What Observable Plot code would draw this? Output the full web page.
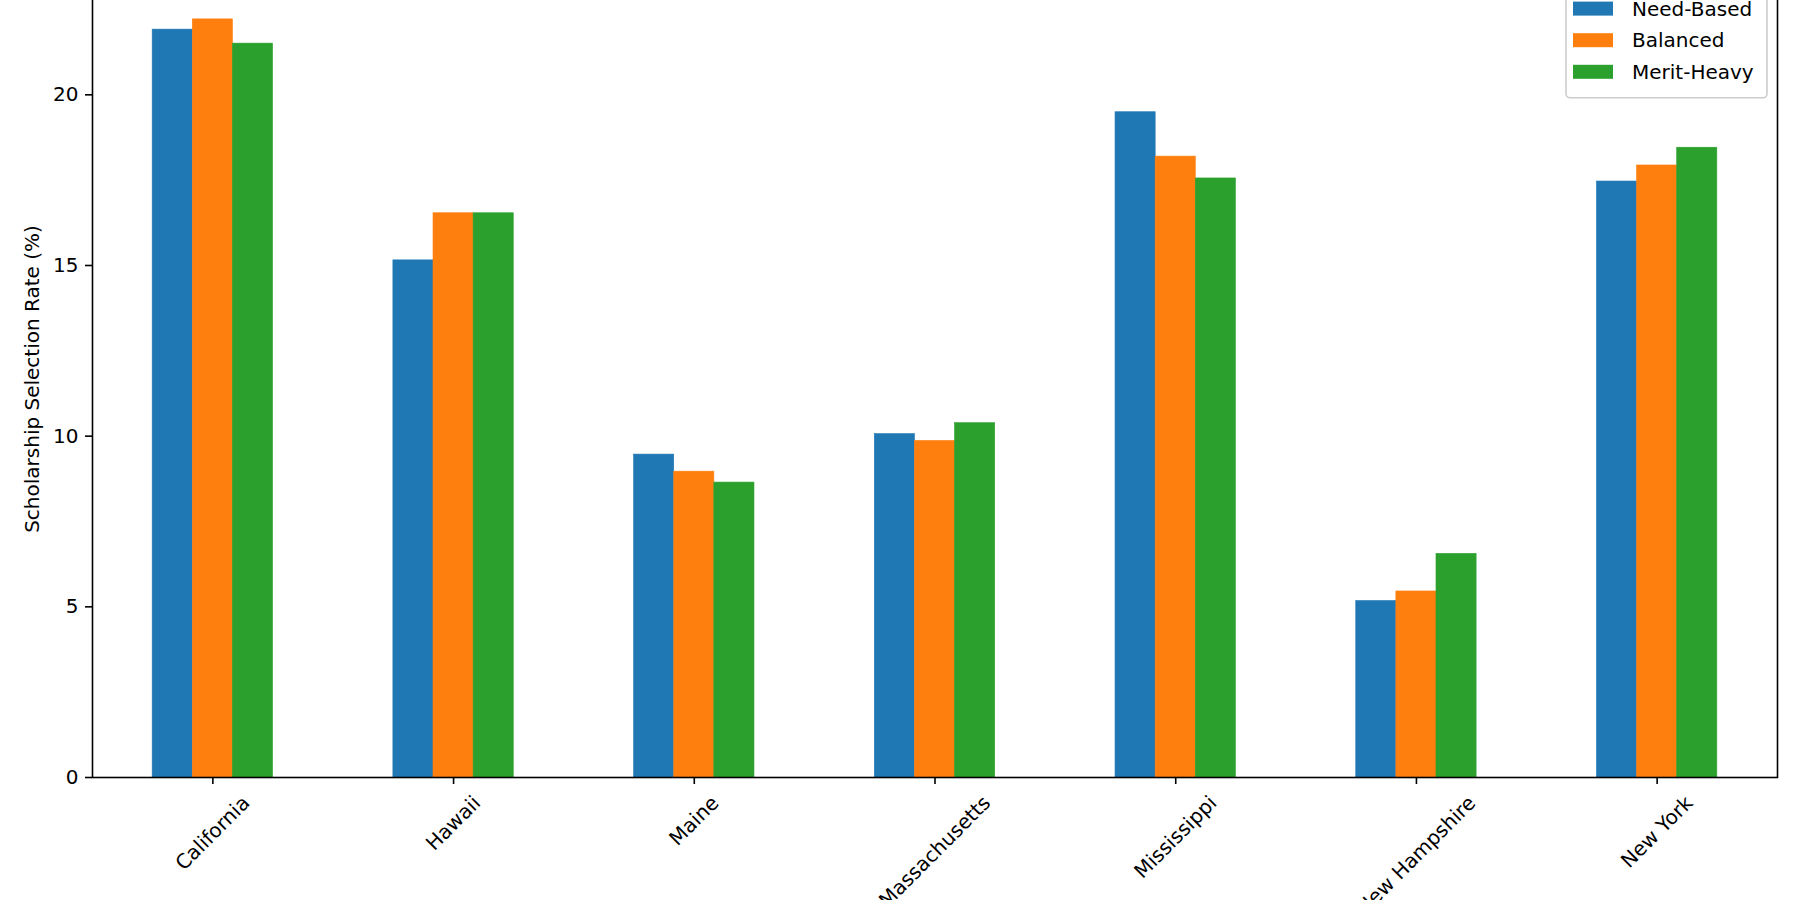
<!DOCTYPE html>
<html>
<head>
<meta charset="utf-8">
<script src="https://cdn.jsdelivr.net/npm/d3@7"></script>
<script src="https://cdn.jsdelivr.net/npm/@observablehq/plot@0.6"></script>
<style>
  html, body { margin: 0; padding: 0; background: #fff; }
  #chart svg { display: block; }
</style>
</head>
<body>
<div id="chart"></div>
<script>
// ---- data ----
const states = ["California", "Hawaii", "Maine", "Massachusetts", "Mississippi", "New Hampshire", "New York"];
const seriesNames = ["Need-Based", "Balanced", "Merit-Heavy"];
const needBased  = [21.91, 15.15, 9.46, 10.06, 19.49, 5.17, 17.46];
const balanced   = [22.21, 16.53, 8.96, 9.86, 18.19, 5.45, 17.93];
const meritHeavy = [21.50, 16.53, 8.64, 10.38, 17.55, 6.55, 18.45];
const seriesColors = ["#1f77b4", "#ff7f0e", "#2ca02c"];
const yTicks = [0, 5, 10, 15, 20];
const yLabel = "Scholarship Selection Rate (%)";
const yMax = 23.32;

// ---- layout ----
const W = 1800, H = 900;
const mL = 92, mR = 23, mT = -19, mB = 123;
const FONT = "DejaVu Sans";
const FS = 20;
const step = (W - mL - mR) / states.length;
const bw = step * 0.5;            // group width
const third = bw / 3;

const seriesValues = [needBased, balanced, meritHeavy];
const tables = seriesValues.map((vals, j) =>
  states.map((s, i) => ({ state: s, series: seriesNames[j], value: vals[i] }))
);

const insets = [
  { insetLeft: 0, insetRight: 2 * third },
  { insetLeft: third, insetRight: third },
  { insetLeft: 2 * third, insetRight: 0 }
];

const chart = Plot.plot({
  width: W,
  height: H,
  marginLeft: mL,
  marginRight: mR,
  marginTop: mT,
  marginBottom: mB,
  style: { fontFamily: FONT, fontSize: FS + "px", color: "#000", background: "#fff" },
  x: { type: "band", domain: states, paddingInner: 0.5, paddingOuter: 0.25, round: false, label: null },
  y: { domain: [0, yMax], label: null },
  color: { domain: seriesNames, range: seriesColors },
  marks: [
    ...tables.map((t, j) => Plot.barY(t, { x: "state", y: "value", fill: "series", stroke: "series", strokeWidth: 0.6, ...insets[j] })),
    Plot.frame({ stroke: "#000", strokeWidth: 1.6 }),
    Plot.axisY({ ticks: yTicks, tickSize: 7, tickPadding: 7, tickFormat: d => String(d), fontSize: FS, strokeWidth: 1.6, label: null }),
    Plot.axisX({ tickSize: 7, tickFormat: () => "", strokeWidth: 1.6, label: null })
  ]
});

document.getElementById("chart").appendChild(chart);

const svg = d3.select(chart);
const xs = chart.scale("x");
const ys = chart.scale("y");

// ---- x tick labels (rotated 45°, centred on tick like matplotlib) ----
const gx = svg.append("g")
  .attr("font-family", FONT)
  .attr("font-size", FS)
  .attr("fill", "#000")
  .attr("text-anchor", "middle");
const y0 = ys.apply(0);
states.forEach(s => {
  const cx = xs.apply(s) + xs.bandwidth / 2;
  const t = gx.append("text").text(s).attr("dominant-baseline", "central");
  const L = t.node().getComputedTextLength();
  const h = FS * 1.164;
  const cy = y0 + 14 + (L + h) * Math.SQRT1_2 / 2;
  t.attr("transform", `translate(${cx},${cy}) rotate(-45)`);
});

// ---- y axis label ----
const yMid = (ys.apply(0) + ys.apply(yMax)) / 2;
svg.append("text")
  .attr("font-family", FONT)
  .attr("font-size", FS)
  .attr("fill", "#000")
  .attr("text-anchor", "middle")
  .attr("dominant-baseline", "central")
  .attr("transform", `translate(32,${yMid}) rotate(-90)`)
  .text(yLabel);

// ---- legend (upper right) ----
const pad = 0.5 * FS;          // borderaxespad
const rowH = 31.6;
const swW = 2 * FS, swH = 0.7 * FS;
const legRight = W - mR - pad;
const legLeft = 1566;
const legTop = mT + pad;
const legBottom = legTop + 0.4 * FS + rowH * seriesNames.length + 4;
const gl = svg.append("g").attr("font-family", FONT).attr("font-size", FS).attr("text-anchor", "start");
gl.append("rect")
  .attr("x", legLeft).attr("y", legTop)
  .attr("width", legRight - legLeft).attr("height", legBottom - legTop)
  .attr("rx", 4).attr("ry", 4)
  .attr("fill", "#fff").attr("fill-opacity", 0.8)
  .attr("stroke", "#cccccc").attr("stroke-width", 1.6);
const firstRowCenter = 8.6;
seriesNames.forEach((name, j) => {
  const cy = firstRowCenter + j * rowH;
  gl.append("rect")
    .attr("x", legLeft + 7).attr("y", cy - swH / 2)
    .attr("width", swW).attr("height", swH)
    .attr("fill", seriesColors[j]);
  gl.append("text")
    .attr("x", legLeft + 7 + swW + 0.8 * FS + 3)
    .attr("y", cy)
    .attr("dominant-baseline", "central")
    .attr("text-anchor", "start")
    .attr("fill", "#000")
    .text(name);
});
</script>
</body>
</html>
